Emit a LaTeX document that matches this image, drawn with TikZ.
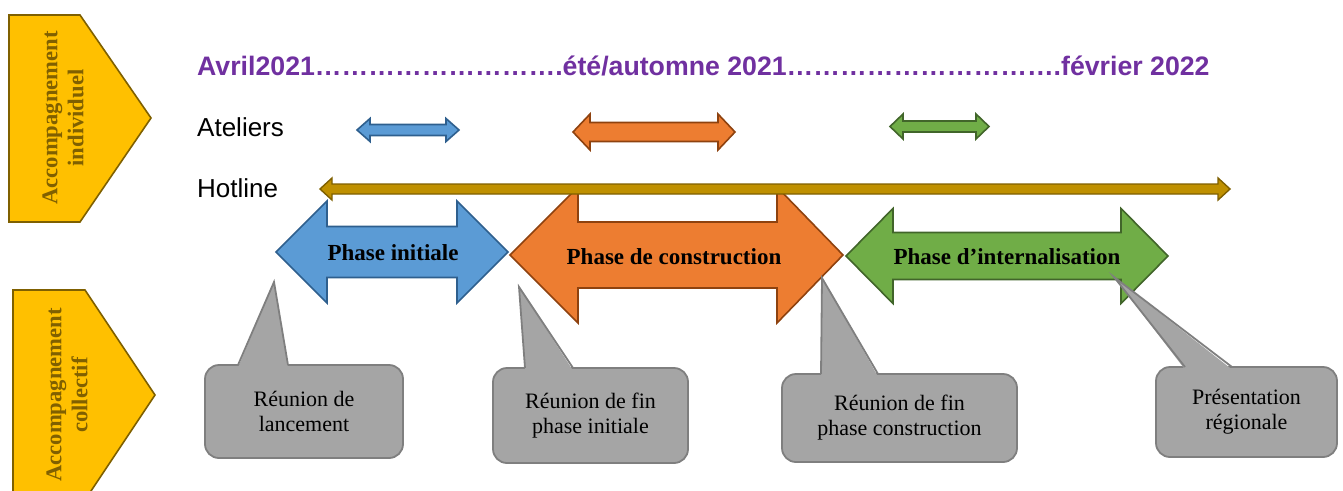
\documentclass[tikz,border=0pt]{standalone}
\usepackage{fontspec}
\setmainfont{Liberation Serif}
\newfontfamily\arialf{Liberation Sans}
\newfontfamily\camf{Liberation Serif}
\definecolor{purp}{HTML}{7030A0}
\definecolor{bluef}{HTML}{5B9BD5}
\definecolor{blued}{HTML}{2E5F8E}
\definecolor{orangef}{HTML}{ED7D31}
\definecolor{oranged}{HTML}{8E420F}
\definecolor{greenf}{HTML}{70AD47}
\definecolor{greend}{HTML}{41652A}
\definecolor{goldf}{HTML}{BF9000}
\definecolor{goldd}{HTML}{7F6000}
\definecolor{yellowf}{HTML}{FFC000}
\definecolor{olivetext}{HTML}{806000}
\definecolor{grayf}{HTML}{A5A5A5}
\definecolor{grayd}{HTML}{7F7F7F}
\newcommand\ellp{…}
% #1 style, #2 left tip x, #3 left inner x, #4 right inner x, #5 right tip x, #6 centre y, #7 head half, #8 shaft half
\newcommand\dblarrow[8]{%
  \draw[#1] (#2,#6) -- (#3,#6-#7) -- (#3,#6-#8) -- (#4,#6-#8) -- (#4,#6-#7) -- (#5,#6)
    -- (#4,#6+#7) -- (#4,#6+#8) -- (#3,#6+#8) -- (#3,#6+#7) -- cycle;}
% #1 name, #2 wedge left x, #3 wedge right x, #4 top y
\newcommand\wedgeto[4]{%
  \fill[grayf] (#2,#4+2.5) -- (#1) -- (#3,#4+2.5) -- cycle;
  \draw[calloutline] (#2,#4) -- (#1) -- (#3,#4);}
\tikzset{
  bluearrow/.style={fill=bluef, draw=blued, line width=1.6pt, line join=miter},
  orangearrow/.style={fill=orangef, draw=oranged, line width=1.6pt, line join=miter},
  greenarrow/.style={fill=greenf, draw=greend, line width=1.6pt, line join=miter},
  goldarrow/.style={fill=goldf, draw=goldd, line width=1.4pt, line join=miter},
  pentagon/.style={fill=yellowf, draw=goldd, line width=1.6pt, line join=miter},
  sidelabel/.style={rotate=90, align=center, text=olivetext, inner sep=0,
    font=\camf\bfseries\fontsize{22.6}{26}\selectfont},
  phaselabel/.style={inner sep=0, font=\camf\bfseries\fontsize{23}{26}\selectfont},
  rowlabel/.style={anchor=base west, inner sep=0, font=\arialf\fontsize{26}{30}\selectfont},
  calloutbox/.style={draw=grayd, fill=grayf, line width=1.8pt, rounded corners=14pt,
    align=center, inner sep=0, font=\camf\fontsize{22}{25}\selectfont},
  calloutline/.style={draw=grayd, line width=1.8pt, line join=miter}
}
\begin{document}
\begin{tikzpicture}[x=1pt,y=-1pt]
\useasboundingbox (0,0) rectangle (1343,490);

% side pentagons
\draw[pentagon] (9,15) -- (80,15) -- (151,118) -- (80,222) -- (9,222) -- cycle;
\draw[pentagon] (13,290) -- (85,290) -- (155,395) -- (85,500) -- (13,500) -- cycle;
\node[sidelabel] (indiv) at (63,118) {Accompagnement\\individuel};
\node[sidelabel] (coll) at (67,395) {Accompagnement\\collectif};

% title
\node[anchor=base west, inner sep=0, text=purp, font=\arialf\bfseries\fontsize{26.7}{30}\selectfont] (title) at (197,75)
  {Avril2021\ellp\ellp\ellp\ellp\ellp\ellp\ellp\ellp\ellp.été/automne 2021\ellp\ellp\ellp\ellp\ellp\ellp\ellp\ellp\ellp\ellp.février 2022};

% row labels
\node[rowlabel] (ateliers) at (197,136) {Ateliers};
\node[rowlabel] (hotline) at (197,197) {Hotline};

% small workshop arrows
\dblarrow{bluearrow}{357}{370}{446}{459}{130}{11.5}{5.5}
\dblarrow{orangearrow}{573}{590}{718}{735}{132}{18}{9.5}
\dblarrow{greenarrow}{890}{903}{976}{989}{126.5}{12.5}{5.5}

% big phase arrows
\dblarrow{bluearrow}{276}{327}{457}{508}{252}{51}{25.5}
\dblarrow{orangearrow}{510}{578}{777}{843}{255}{68}{33}
\dblarrow{greenarrow}{846}{893}{1121}{1168}{256}{47.5}{23.5}
\node[phaselabel] (p1) at (393,253) {Phase initiale};
\node[phaselabel] (p2) at (674,257) {Phase de construction};
\node[phaselabel] (p3) at (1007,257) {Phase d’internalisation};

% hotline arrow
\dblarrow{goldarrow}{320}{332}{1218}{1230}{189}{11}{5}

% callouts
\node[calloutbox, minimum width=198, minimum height=93] (c1) at (304,411.5) {Réunion de\\lancement};
\node[calloutbox, minimum width=195, minimum height=95] (c2) at (590.5,415.5) {Réunion de fin\\phase initiale};
\node[calloutbox, minimum width=235, minimum height=88] (c3) at (899.5,418) {Réunion de fin\\phase construction};
\node[calloutbox, minimum width=181, minimum height=90] (c4) at (1246.5,412) {Présentation\\régionale};
\coordinate (t1) at (274,282);
\coordinate (t2) at (519,287);
\coordinate (t3) at (822,278);
\coordinate (t4) at (1114,277);
\wedgeto{t1}{238}{288}{365}
\wedgeto{t2}{525}{573}{368}
\wedgeto{t3}{821}{878}{374}
\wedgeto{t4}{1185}{1232}{367}
\end{tikzpicture}
\end{document}
